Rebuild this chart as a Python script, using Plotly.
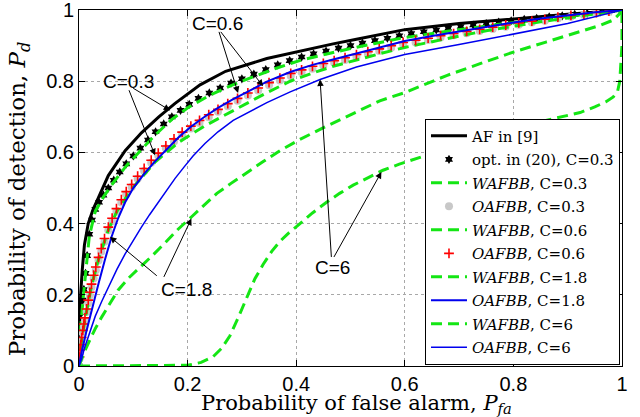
import plotly.graph_objects as go

# ---------------- data ----------------
af_x = [0, 0.001, 0.003, 0.006, 0.01, 0.017, 0.026, 0.035, 0.054, 0.085, 0.115, 0.147, 0.177, 0.223,
        0.27, 0.346, 0.389, 0.468, 0.511, 0.6, 0.7, 0.8, 0.9, 1.0]
af_y = [0, 0.1, 0.2, 0.27, 0.34, 0.4, 0.44, 0.47, 0.535, 0.605, 0.655, 0.7, 0.738, 0.79,
        0.828, 0.864, 0.879, 0.905, 0.918, 0.945, 0.962, 0.976, 0.988, 1.0]

opt_x = [0, 0.001, 0.002, 0.003, 0.005, 0.007, 0.009, 0.012, 0.015, 0.019, 0.024, 0.03, 0.037, 0.045,
         0.054, 0.064, 0.075, 0.087, 0.1, 0.113, 0.127, 0.141, 0.156, 0.171, 0.187, 0.203, 0.22, 0.24,
         0.26, 0.28, 0.3, 0.322, 0.344, 0.366, 0.388, 0.41, 0.432, 0.455, 0.478, 0.5, 0.522, 0.545,
         0.568, 0.59, 0.612, 0.635, 0.658, 0.68, 0.703, 0.726, 0.75, 0.773, 0.796, 0.82, 0.843, 0.866,
         0.89, 0.913, 0.936, 0.96, 0.98, 1.0]
opt_y = [0, 0.05, 0.08, 0.11, 0.15, 0.185, 0.215, 0.26, 0.31, 0.37, 0.41, 0.44, 0.46, 0.48,
         0.5, 0.522, 0.545, 0.568, 0.59, 0.612, 0.635, 0.658, 0.68, 0.7, 0.718, 0.735, 0.752, 0.767,
         0.781, 0.795, 0.807, 0.82, 0.833, 0.846, 0.858, 0.868, 0.877, 0.885, 0.893, 0.9, 0.907, 0.914,
         0.921, 0.928, 0.934, 0.939, 0.944, 0.949, 0.954, 0.958, 0.962, 0.966, 0.97, 0.974, 0.977, 0.981,
         0.984, 0.988, 0.991, 0.995, 0.998, 1.0]

w03_x = [0, 0.003, 0.007, 0.012, 0.019, 0.03, 0.045, 0.064, 0.087, 0.113, 0.141, 0.171, 0.203, 0.24,
         0.28, 0.322, 0.366, 0.41, 0.455, 0.5, 0.545, 0.59, 0.635, 0.68, 0.726, 0.773, 0.82, 0.866,
         0.913, 0.96, 1.0]
w03_y = [0, 0.105, 0.18, 0.255, 0.365, 0.435, 0.475, 0.517, 0.562, 0.605, 0.65, 0.693, 0.728, 0.76,
         0.788, 0.813, 0.838, 0.86, 0.877, 0.892, 0.906, 0.92, 0.931, 0.941, 0.951, 0.96, 0.968, 0.976,
         0.985, 0.993, 1.0]

o06_x = [0, 0.001, 0.002, 0.003, 0.005, 0.007, 0.009, 0.011, 0.014, 0.017, 0.020, 0.023, 0.027, 0.031,
         0.036, 0.041, 0.047, 0.054, 0.061, 0.069, 0.078, 0.087, 0.097, 0.108, 0.120, 0.133, 0.146,
         0.160, 0.175, 0.190, 0.206, 0.222, 0.239, 0.256, 0.274, 0.292, 0.311, 0.330, 0.350, 0.370,
         0.390, 0.410, 0.430, 0.450, 0.470, 0.490, 0.511, 0.532, 0.553, 0.575, 0.597, 0.620, 0.643,
         0.666, 0.690, 0.714, 0.738, 0.762, 0.786, 0.810, 0.834, 0.858, 0.882, 0.906, 0.930, 0.953,
         0.976, 1.000]
o06_y = [0, 0.025, 0.045, 0.06, 0.08, 0.1, 0.118, 0.135, 0.16, 0.185, 0.207, 0.23, 0.255, 0.278,
         0.305, 0.33, 0.358, 0.39, 0.415, 0.442, 0.467, 0.49, 0.51, 0.533, 0.555, 0.578, 0.598,
         0.618, 0.638, 0.657, 0.674, 0.69, 0.706, 0.721, 0.737, 0.752, 0.767, 0.781, 0.796, 0.809,
         0.822, 0.832, 0.842, 0.85, 0.858, 0.866, 0.875, 0.883, 0.891, 0.9, 0.909, 0.915, 0.921,
         0.928, 0.934, 0.94, 0.946, 0.952, 0.958, 0.964, 0.969, 0.974, 0.98, 0.985, 0.989, 0.993,
         0.997, 1.0]

o03_x = o06_x
o03_y = [0, 0.02, 0.038, 0.052, 0.072, 0.092, 0.11, 0.127, 0.152, 0.176, 0.198, 0.221, 0.246, 0.269,
         0.296, 0.321, 0.349, 0.381, 0.406, 0.433, 0.459, 0.482, 0.503, 0.526, 0.548, 0.571, 0.591,
         0.611, 0.631, 0.65, 0.667, 0.683, 0.699, 0.714, 0.73, 0.745, 0.76, 0.774, 0.789, 0.802,
         0.815, 0.825, 0.835, 0.844, 0.852, 0.86, 0.869, 0.877, 0.885, 0.894, 0.903, 0.909, 0.916,
         0.923, 0.929, 0.935, 0.941, 0.947, 0.953, 0.959, 0.965, 0.97, 0.976, 0.981, 0.986, 0.991,
         0.995, 1.0]

w06_x = [0, 0.005, 0.011, 0.023, 0.036, 0.054, 0.07, 0.097, 0.14, 0.183, 0.232, 0.284, 0.346, 0.389,
         0.43, 0.468, 0.511, 0.553, 0.6, 0.65, 0.7, 0.75, 0.8, 0.85, 0.9, 0.95, 1.0]
w06_y = [0, 0.075, 0.13, 0.225, 0.3, 0.382, 0.435, 0.497, 0.573, 0.628, 0.675, 0.718, 0.768, 0.8,
         0.823, 0.842, 0.86, 0.877, 0.895, 0.912, 0.927, 0.942, 0.955, 0.967, 0.978, 0.99, 1.0]

w18_x = [0, 0.01, 0.02, 0.03, 0.042, 0.055, 0.072, 0.09, 0.115, 0.135, 0.158, 0.183, 0.208, 0.232,
         0.254, 0.28, 0.31, 0.34, 0.37, 0.405, 0.444, 0.5, 0.554, 0.6, 0.677, 0.74, 0.8, 0.86, 0.923,
         0.96, 0.984, 0.996, 1.0]
w18_y = [0, 0.04, 0.073, 0.105, 0.138, 0.17, 0.213, 0.245, 0.28, 0.31, 0.345, 0.385, 0.42, 0.455,
         0.485, 0.513, 0.545, 0.575, 0.605, 0.635, 0.665, 0.706, 0.745, 0.768, 0.816, 0.85, 0.882, 0.91,
         0.94, 0.957, 0.972, 0.99, 1.0]

o18_x = [0, 0.005, 0.014, 0.025, 0.036, 0.048, 0.06, 0.072, 0.085, 0.1, 0.12, 0.14, 0.163, 0.183,
         0.206, 0.232, 0.256, 0.284, 0.311, 0.346, 0.389, 0.43, 0.468, 0.511, 0.553, 0.6, 0.65, 0.7,
         0.75, 0.8, 0.85, 0.9, 0.95, 1.0]
o18_y = [0, 0.04, 0.1, 0.17, 0.232, 0.3, 0.363, 0.415, 0.46, 0.5, 0.54, 0.575, 0.612, 0.642,
         0.672, 0.701, 0.725, 0.75, 0.771, 0.799, 0.826, 0.846, 0.861, 0.878, 0.895, 0.913, 0.927, 0.94,
         0.953, 0.965, 0.976, 0.986, 0.994, 1.0]

w6_x = [0, 0.1, 0.2, 0.225, 0.247, 0.263, 0.278, 0.293, 0.309, 0.324, 0.339, 0.355, 0.37, 0.385,
        0.401, 0.43, 0.456, 0.48, 0.505, 0.53, 0.56, 0.59, 0.622, 0.66, 0.7, 0.75, 0.8, 0.824, 0.86,
        0.9, 0.923, 0.95, 0.97, 0.984, 0.992, 0.996, 0.998, 1.0, 1.0]
w6_y = [0, 0, 0.002, 0.01, 0.026, 0.05, 0.085, 0.135, 0.194, 0.245, 0.285, 0.322, 0.35, 0.372,
        0.392, 0.43, 0.46, 0.485, 0.508, 0.528, 0.55, 0.567, 0.583, 0.603, 0.623, 0.647, 0.667, 0.678,
        0.69, 0.703, 0.712, 0.728, 0.742, 0.756, 0.772, 0.8, 0.85, 0.9, 1.0]

o6_x = [0, 0.005, 0.01, 0.02, 0.03, 0.042, 0.055, 0.07, 0.085, 0.1, 0.115, 0.13, 0.146, 0.161, 0.177,
        0.193, 0.21, 0.232, 0.256, 0.284, 0.315, 0.346, 0.389, 0.444, 0.511, 0.6, 0.7, 0.8, 0.9, 1.0]
o6_y = [0, 0.02, 0.05, 0.095, 0.14, 0.182, 0.225, 0.272, 0.315, 0.354, 0.39, 0.425, 0.46, 0.493, 0.527,
        0.558, 0.59, 0.625, 0.658, 0.69, 0.716, 0.74, 0.77, 0.805, 0.84, 0.875, 0.903, 0.933, 0.962, 1.0]

tick_vals = [0, 0.2, 0.4, 0.6, 0.8, 1]
tick_text = ["0", "0.2", "0.4", "0.6", "0.8", "1"]

# ---------------- figure ----------------
GREEN = "#14e614"
DASH = "11px,6px"
fig = go.Figure()


def add(x, y, name, grp, **kw):
    fig.add_trace(go.Scatter(x=x, y=y, name=name, legendgroup=grp, **kw))


add(af_x, af_y, "AF in [9]", "g1", mode="lines", line=dict(color="black", width=3))
add(opt_x, opt_y, "opt. in (20), C=0.3", "g2", mode="markers",
    marker=dict(symbol="hexagram", size=7, color="black"))
add(w03_x, w03_y, "<i>WAFBB</i>, C=0.3", "g3", mode="lines",
    line=dict(color=GREEN, width=3, dash=DASH))
add(o03_x, o03_y, "<i>OAFBB</i>, C=0.3", "g4", mode="markers",
    marker=dict(symbol="circle", size=8, color="#c8c8c8"))
add(w06_x, w06_y, "<i>WAFBB</i>, C=0.6", "g5", mode="lines",
    line=dict(color=GREEN, width=3, dash=DASH))
add(o06_x, o06_y, "<i>OAFBB</i>, C=0.6", "g6", mode="markers",
    marker=dict(symbol="cross-thin", size=7, color="red", line=dict(width=1.6, color="red")))
add(w18_x, w18_y, "<i>WAFBB</i>, C=1.8", "g7", mode="lines",
    line=dict(color=GREEN, width=3, dash=DASH))
add(o18_x, o18_y, "<i>OAFBB</i>, C=1.8", "g8", mode="lines", line=dict(color="#0000ee", width=2))
add(w6_x, w6_y, "<i>WAFBB</i>, C=6", "g9", mode="lines",
    line=dict(color=GREEN, width=3, dash=DASH))
add(o6_x, o6_y, "<i>OAFBB</i>, C=6", "g10", mode="lines", line=dict(color="#0000ee", width=1.5))

# labels and arrows
labels = [("C=0.3", 0.092, 0.80), ("C=0.6", 0.255, 0.963), ("C=1.8", 0.198, 0.216), ("C=6", 0.467, 0.276)]
arrows = [((0.168, 0.718), (0.097, 0.783)), ((0.140, 0.592), (0.091, 0.779)),
          ((0.293, 0.767), (0.257, 0.943)), ((0.339, 0.786), (0.259, 0.943)),
          ((0.057, 0.363), (0.146, 0.250)), ((0.207, 0.414), (0.155, 0.246)),
          ((0.444, 0.805), (0.465, 0.302)), ((0.557, 0.545), (0.468, 0.302))]
ann = []
for t, x, y in labels:
    ann.append(dict(x=x, y=y, xref="x", yref="y", text=t, showarrow=False,
                    font=dict(family="Liberation Sans", size=19, color="black")))
for (tx, ty), (sx, sy) in arrows:
    ann.append(dict(x=tx, y=ty, ax=sx, ay=sy, xref="x", yref="y", axref="x", ayref="y",
                    text="", showarrow=True, arrowhead=2, arrowsize=1.3, arrowwidth=1,
                    arrowcolor="black", standoff=0, startstandoff=0))
# axis titles, placed where MATLAB puts them
ann.append(dict(x=-0.109, y=0.471, xref="paper", yref="paper", xanchor="center", yanchor="middle",
                text="Probability of detection, <i>P</i><sub><i>d</i></sub>", textangle=-90,
                showarrow=False, font=dict(family="DejaVu Serif", size=23, color="black")))
ann.append(dict(x=0.511, y=-0.064, xref="paper", yref="paper", xanchor="center", yanchor="top",
                text="Probability of false alarm, <i>P</i><sub><i>fa</i></sub>",
                showarrow=False, font=dict(family="DejaVu Serif", size=21, color="black")))

axis_common = dict(tickvals=tick_vals, ticktext=tick_text, ticks="inside", ticklen=6,
                   tickcolor="black", showline=True, linecolor="black", linewidth=1, mirror="ticks",
                   showgrid=True, gridcolor="#a8a8a8", griddash="dot", gridwidth=1, zeroline=False,
                   ticklabeloverflow="allow", automargin=False,
                   tickfont=dict(family="Liberation Sans", size=20, color="black"))

fig.update_layout(
    width=640, height=417,
    margin=dict(l=79, r=18, t=10, b=51),
    paper_bgcolor="white", plot_bgcolor="white",
    xaxis=dict(**axis_common, range=[0, 1.0001]),
    yaxis=dict(**axis_common, range=[-0.0001, 1.0002]),
    legend=dict(x=0.9963, y=0.695, xanchor="right", yanchor="top", bgcolor="white",
                bordercolor="black", borderwidth=1, traceorder="grouped", tracegroupgap=1,
                itemwidth=36, font=dict(family="DejaVu Serif", size=15, color="black")),
    annotations=ann,
    showlegend=True,
)

fig.write_html("out.html")
